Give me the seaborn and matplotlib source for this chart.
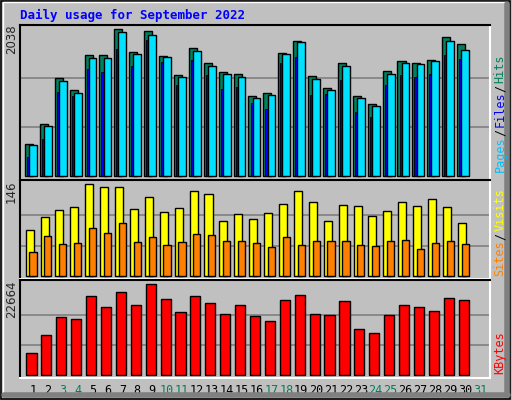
import matplotlib
matplotlib.use("Agg")
import matplotlib.pyplot as plt
from matplotlib.patches import Rectangle
import seaborn as sns
import numpy as np

days = np.arange(1, 31)
all_days = np.arange(1, 32)
hits = [447, 724, 1360, 1194, 1678, 1678, 2038, 1720, 2010, 1664, 1402, 1775, 1568, 1443, 1415,
        1111, 1153, 1706, 1872, 1388, 1222, 1568, 1111, 1000, 1457, 1595, 1568, 1609, 1927, 1830]
files = [429, 690, 1320, 1160, 1640, 1640, 2000, 1690, 1960, 1650, 1380, 1735, 1530, 1410, 1380,
         1085, 1130, 1690, 1860, 1350, 1195, 1525, 1090, 980, 1420, 1575, 1550, 1595, 1870, 1745]
pages = [267, 516, 1167, 1111, 1485, 1443, 1762, 1526, 1886, 1582, 1263, 1609, 1402, 1208, 1236,
         1014, 931, 1568, 1651, 1125, 1139, 1333, 890, 821, 1263, 1402, 1374, 1416, 1679, 1623]
visits = [73, 94, 105, 109, 146, 141, 141, 106, 125, 102, 108, 135, 130, 87, 98,
          90, 100, 114, 135, 117, 87, 113, 111, 95, 103, 117, 111, 122, 109, 84]
sites = [38, 63, 51, 52, 76, 68, 84, 54, 62, 49, 54, 67, 65, 56, 56,
         52, 46, 62, 49, 56, 56, 56, 49, 48, 56, 57, 43, 52, 56, 51]
kbytes = [5479, 9962, 14445, 13947, 19675, 16936, 20672, 17434, 22664, 18928, 15691, 19675, 17932, 15193, 17434,
          14694, 13449, 18679, 19924, 15193, 14944, 18430, 11457, 10460, 14944, 17434, 16936, 15940, 19177, 18679]
weekends = [3, 4, 10, 11, 17, 18, 24, 25, 31]

BG = "#C0C0C0"
GREEN = "#00805C"
sns.set_style("white")
plt.rcParams["font.family"] = ["DejaVu Sans Mono"]

fig = plt.figure(figsize=(5.12, 4.0), dpi=100, facecolor=BG)

# bevelled frame
fig.patches.append(Rectangle((0.002, 0.003), 0.994, 0.994, transform=fig.transFigure,
                             fill=False, ec="black", lw=1.2))
fig.patches.append(Rectangle((0.006, 0.012), 0.982, 0.982, transform=fig.transFigure,
                             fill=False, ec="white", lw=1.0))
fig.lines.append(plt.Line2D([0.008, 0.992], [0.012, 0.012], transform=fig.transFigure, color="#808080", lw=4))
fig.lines.append(plt.Line2D([0.990, 0.990], [0.012, 0.99], transform=fig.transFigure, color="#808080", lw=4))

L, W = 0.039, 0.919
ax1 = fig.add_axes([L, 0.55, W, 0.388])
ax2 = fig.add_axes([L, 0.302, W, 0.2475])
ax3 = fig.add_axes([L, 0.054, W, 0.246])


def bars(ax, vals, off, width, color, lw=1.0):
    sns.barplot(x=days + off, y=vals, ax=ax, native_scale=True, color=color,
                width=width, edgecolor="black", linewidth=lw, saturation=1)


bars(ax1, hits, -0.27, 0.54, GREEN)
bars(ax1, pages, -0.33, 0.14, "#0000FF", 0.6)
bars(ax1, files, 0.0, 0.52, "#00E0FF")
bars(ax2, visits, -0.22, 0.54, "#FFFF00")
bars(ax2, sites, 0.0, 0.48, "#FF8000")
bars(ax3, kbytes, -0.1, 0.68, "#FF0000")

for ax, mx, lo, hi in [(ax1, 2038, -51, 2098), (ax2, 146, -4.8, 152.3), (ax3, 22664, -747, 23735)]:
    ax.set_facecolor(BG)
    ax.set_xlim(0.13, 31.7)
    ax.set_ylim(lo, hi)
    for k in (1, 2):
        ax.axhline(mx * k / 3, color="#808080", lw=1.2, zorder=0)
    ax.set_yticks([])
    ax.set_xticks([])
    ax.set_xlabel("")
    ax.set_ylabel("")
    for s in ("top", "left"):
        ax.spines[s].set_color("black")
    for s in ("bottom", "right"):
        ax.spines[s].set_color("white")
    for s in ax.spines.values():
        s.set_linewidth(1.5)
    ax.text(-0.018, 1.0, str(mx), transform=ax.transAxes, rotation=90, ha="center",
            va="top", fontsize=8.5, family="DejaVu Sans")

ax3.set_xticks(all_days)
ax3.set_xticklabels([str(d) for d in all_days], fontsize=8.5)
ax3.tick_params(axis="x", length=0, pad=4)
for lbl, d in zip(ax3.get_xticklabels(), all_days):
    lbl.set_color(GREEN if d in weekends else "black")

fig.text(0.039, 0.962, "Daily usage for September 2022", color="#0000FF",
         fontsize=9, fontweight="bold", va="center")


def side_label(parts, y_start):
    # draw colored words stacked bottom-to-top on the right side
    y = y_start
    for txt, col in parts:
        fig.text(0.977, y, txt, rotation=90, color=col, fontsize=8.5,
                 ha="center", va="bottom")
        y += len(txt) * 0.0166 + 0.006


side_label([("Pages", "#00C0FF"), ("/", "black"), ("Files", "#0000FF"), ("/", "black"), ("Hits", GREEN)], 0.57)
side_label([("Sites", "#FF8000"), ("/", "black"), ("Visits", "#FFFF00")], 0.31)
side_label([("KBytes", "#FF0000")], 0.065)

fig.savefig("out.png", dpi=100, facecolor=BG)
